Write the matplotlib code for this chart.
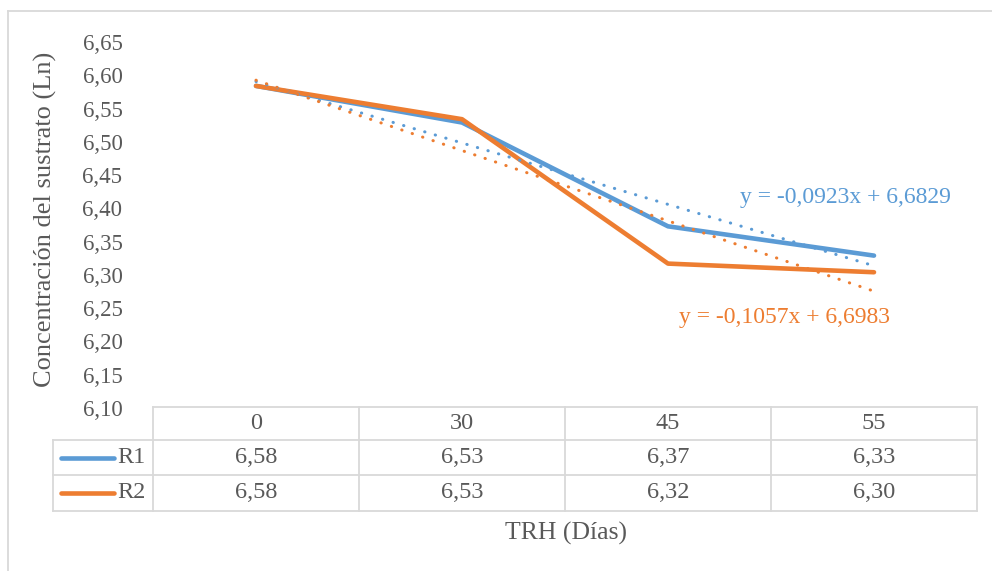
import matplotlib
matplotlib.use("Agg")
import matplotlib.pyplot as plt
import numpy as np
from matplotlib.lines import Line2D
from matplotlib.transforms import blended_transform_factory

# ── Data ──────────────────────────────────────────────────────────────────────
dias = ["0", "30", "45", "55"]
r1 = [6.584, 6.529, 6.373, 6.329]
r2 = [6.584, 6.534, 6.317, 6.304]
series_names = ["R1", "R2"]
trend_r1 = (-0.0923, 6.6829)   # slope, intercept (x = 1..n)
trend_r2 = (-0.1057, 6.6983)
y_ticks = [6.10, 6.15, 6.20, 6.25, 6.30, 6.35, 6.40, 6.45, 6.50, 6.55, 6.60, 6.65]

BLUE = "#5B9BD5"
ORANGE = "#ED7D31"
TXT = "#595959"
GRID = "#D9D9D9"
FS_TICK = 16.5
FS_TAB = 17.5
FS_EQ = 17
FS_LAB = 18.5

plt.rcParams["font.family"] = ["Liberation Serif", "DejaVu Serif"]

W, H = 992, 571
fig = plt.figure(figsize=(W / 100, H / 100), dpi=100)


def fx(px):
    return px / W


def fy(py):
    return 1 - py / H


ax = fig.add_axes([fx(153), fy(408), fx(977) - fx(153), fy(42) - fy(408)])

x = np.arange(1, len(dias) + 1)
ax.plot(x, r1, color=BLUE, lw=3.3, solid_capstyle="round", solid_joinstyle="round", zorder=3)
ax.plot(x, r2, color=ORANGE, lw=3.3, solid_capstyle="round", solid_joinstyle="round", zorder=4)

for (m, b), c in [(trend_r1, BLUE), (trend_r2, ORANGE)]:
    ax.plot(x, m * x + b, color=c, lw=2.2, linestyle=(0, (0.1, 3.5)),
            dash_capstyle="round", zorder=5)

ax.set_xlim(0.5, len(dias) + 0.5)
ax.set_ylim(y_ticks[0], y_ticks[-1])
ax.set_yticks(y_ticks)
ax.set_yticklabels([f"{v:.2f}".replace(".", ",") for v in y_ticks], color=TXT, fontsize=FS_TICK)
ax.tick_params(axis="y", length=0, pad=22)
ax.set_xticks([])
for s in ax.spines.values():
    s.set_visible(False)

# trendline equations
ax.text(3.86, 6.416, "y = -0,0923x + 6,6829", color=BLUE, fontsize=FS_EQ, ha="center", va="center")
ax.text(3.565, 6.236, "y = -0,1057x + 6,6983", color=ORANGE, fontsize=FS_EQ, ha="center", va="center")

fig.text(fx(45), fy(219), "Concentración del sustrato (Ln)", rotation=90, color=TXT,
         fontsize=FS_LAB + 0.5, ha="center", va="center")

# ── Data table under the plot ─────────────────────────────────────────────────
tr = blended_transform_factory(ax.transData, fig.transFigure)
row_y = [407, 440, 475, 511]  # pixel borders: header, R1, R2
x0, x1 = 0.5, len(dias) + 0.5
lkw = dict(color=GRID, lw=1.3, transform=tr, clip_on=False)

for py in row_y:
    ax.add_line(Line2D([x0, x1], [fy(py), fy(py)], **lkw))
for i in range(len(dias) + 1):
    xb = x0 + i
    ax.add_line(Line2D([xb, xb], [fy(row_y[0]), fy(row_y[-1])], **lkw))

# legend column
fkw = dict(color=GRID, lw=1.3, transform=fig.transFigure)
for py in row_y[1:]:
    fig.add_artist(Line2D([fx(53), fx(153)], [fy(py), fy(py)], **fkw))
fig.add_artist(Line2D([fx(53), fx(53)], [fy(row_y[1]), fy(row_y[-1])], **fkw))

for i, d in enumerate(dias):
    ax.text(x[i], fy((row_y[0] + row_y[1]) / 2), d, transform=tr, ha="center",
            va="center", color=TXT, fontsize=FS_TAB)

for r, (name, vals, c) in enumerate(zip(series_names, [r1, r2], [BLUE, ORANGE])):
    yc = fy((row_y[r + 1] + row_y[r + 2]) / 2)
    for i, v in enumerate(vals):
        ax.text(x[i], yc, f"{v:.2f}".replace(".", ","), transform=tr, ha="center",
                va="center", color=TXT, fontsize=FS_TAB)
    fig.add_artist(Line2D([fx(61), fx(114)], [yc, yc], color=c, lw=3.3,
                          solid_capstyle="round", transform=fig.transFigure))
    fig.text(fx(117), yc, name, ha="left", va="center", color=TXT, fontsize=FS_TAB)

fig.text(fx(566), fy(533), "TRH (Días)", ha="center", va="center", color=TXT, fontsize=FS_LAB)

# chart-area border (left and top visible)
fig.add_artist(Line2D([fx(8), fx(8)], [fy(11), 0], color=GRID, lw=1.3, transform=fig.transFigure))
fig.add_artist(Line2D([fx(8), 1], [fy(11), fy(11)], color=GRID, lw=1.3, transform=fig.transFigure))

fig.savefig("out.png", dpi=100)
